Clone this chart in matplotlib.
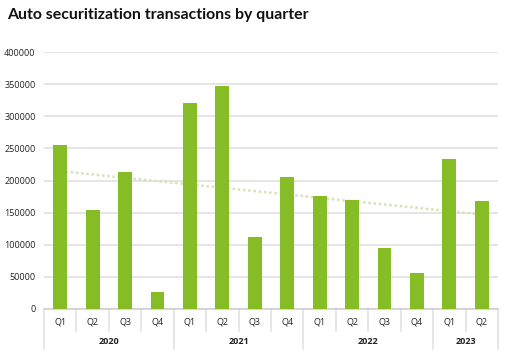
import matplotlib
matplotlib.use("Agg")
import matplotlib.pyplot as plt
import numpy as np

years = ["2020", "2021", "2022", "2023"]
quarters_per_year = [4, 4, 4, 2]
quarters = ["Q1", "Q2", "Q3", "Q4", "Q1", "Q2", "Q3", "Q4",
            "Q1", "Q2", "Q3", "Q4", "Q1", "Q2"]
values = [255000, 154000, 213000, 26500, 320500, 347000, 112500, 205000,
          176000, 170000, 95000, 56000, 233500, 168000]

green = "#86bc25"
grid_col = "#e3e3e3"

plt.rcParams['font.family'] = ['Open Sans', 'DejaVu Sans']

fig = plt.figure(figsize=(5.12, 3.59), dpi=100)
ax = fig.add_axes([44/512, 50/359, 454/512, 257/359])

x = np.arange(len(values))
ax.bar(x, values, width=0.43, color=green, zorder=3)

# linear trend line
k, b = np.polyfit(x, values, 1)
ax.plot(x, k*x + b, color="#d3e4b5", lw=1.8, ls=(0, (1, 1.1)), zorder=2)

ax.set_xlim(-0.5, len(values) - 0.5)
ax.set_ylim(0, 400000)
ax.set_yticks(np.arange(0, 400001, 50000))
ax.set_yticklabels([str(v) for v in range(0, 400001, 50000)], fontsize=6.5, color="#222222")
ax.yaxis.grid(True, color=grid_col, lw=1.3, zorder=0)
ax.tick_params(axis="y", length=0, pad=6)
ax.set_xticks([])
for s in ["top", "right", "left"]:
    ax.spines[s].set_visible(False)
ax.spines["bottom"].set_color("#d0d0d0")
ax.spines["bottom"].set_linewidth(1.2)

# quarter labels and separators
tr = ax.get_xaxis_transform()
for i, q in enumerate(quarters):
    ax.text(i, -0.05, q, transform=tr, ha="center", va="center", fontsize=6.5, color="#222222")
edges = np.cumsum([0] + quarters_per_year) - 0.5
for i in range(len(quarters) + 1):
    xe = i - 0.5
    if xe in edges:
        ax.plot([xe, xe], [0, -0.155], transform=tr, color=grid_col, lw=1.2, clip_on=False)
    else:
        ax.plot([xe, xe], [0, -0.085], transform=tr, color=grid_col, lw=1.2, clip_on=False)
for j, yr in enumerate(years):
    mid = (edges[j] + edges[j + 1]) / 2
    ax.text(mid, -0.125, yr, transform=tr, ha="center", va="center", fontsize=6.5,
            fontweight="bold", color="#222222")

fig.text(7/512, 1 - 15/359, "Auto securitization transactions by quarter", fontsize=11.4,
         fontweight="bold", family="Lato", ha="left", va="center", color="#111111")

fig.savefig("out.png", dpi=100)
